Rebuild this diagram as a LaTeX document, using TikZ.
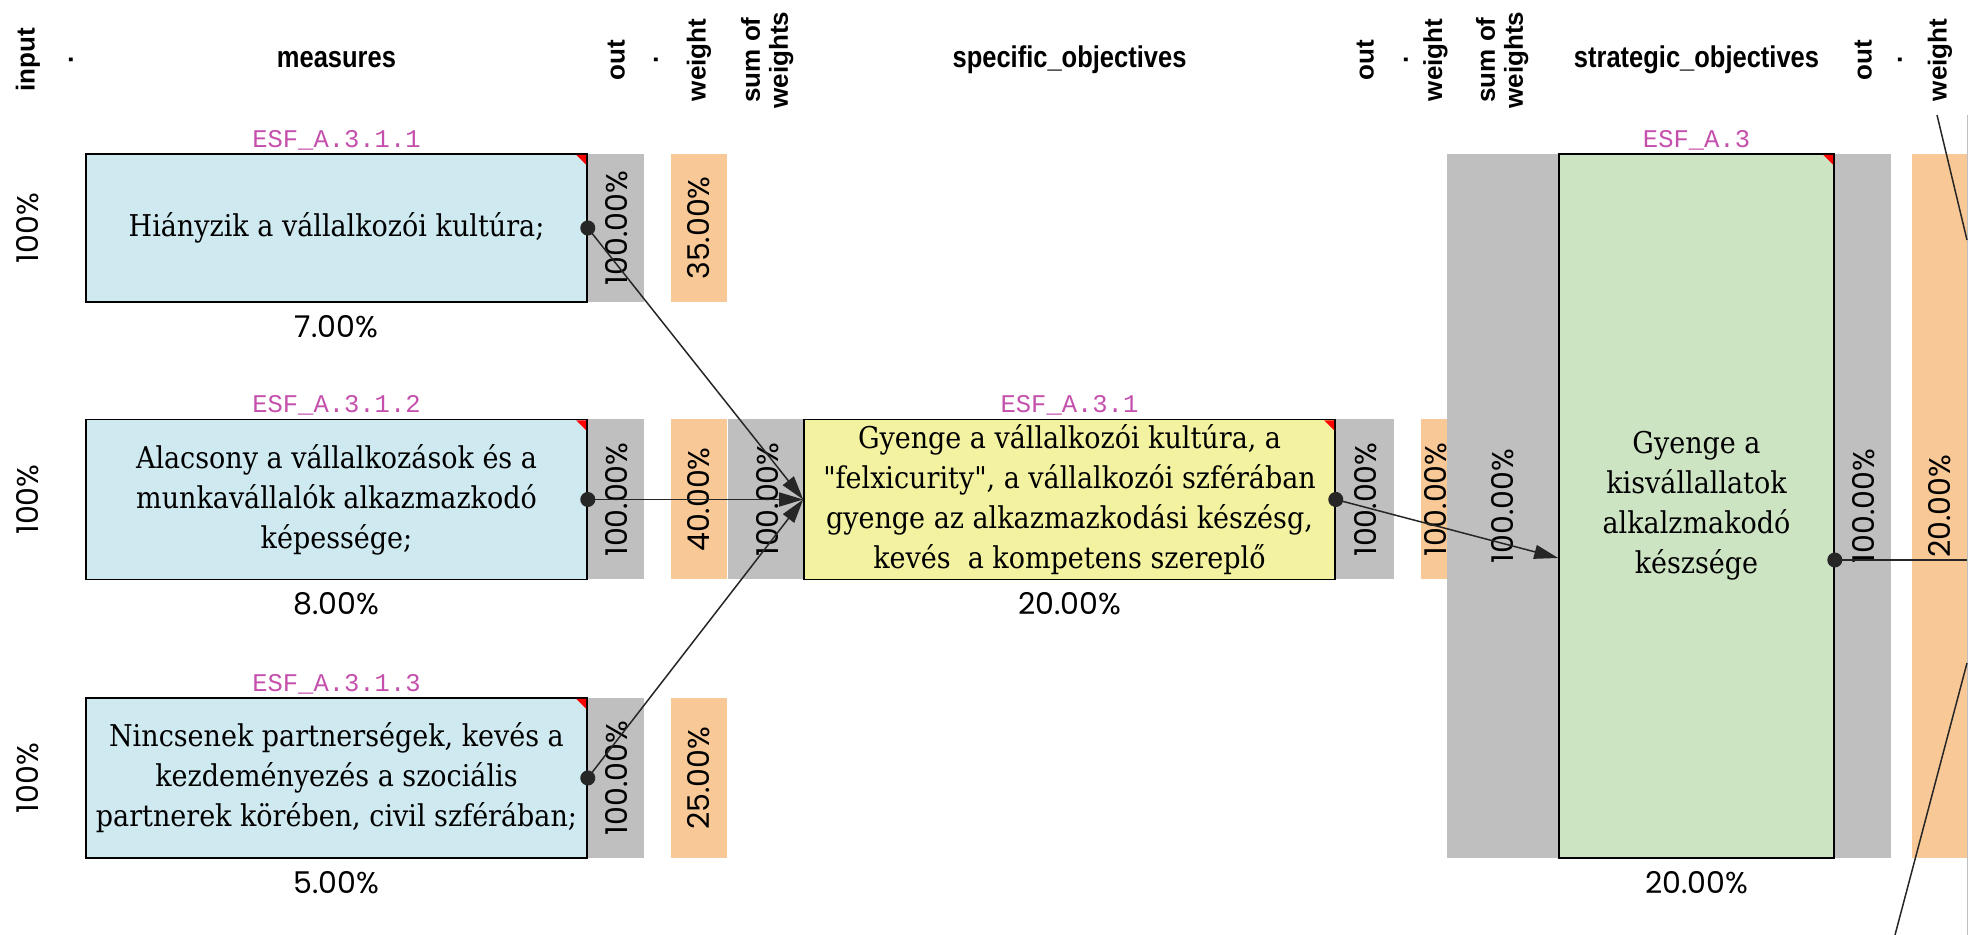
\documentclass[tikz,border=0pt]{standalone}
\usepackage{fontspec}
\setmainfont{DejaVu Serif Condensed}
\newfontfamily\numfont{Poppins}
\newfontfamily\idfont{Liberation Mono}
\newfontfamily\headfont{Liberation Sans}
\newfontfamily\headnarrow[FakeStretch=0.85]{Liberation Sans}
\usetikzlibrary{arrows.meta,positioning}

\definecolor{mblue}{RGB}{206,233,240}
\definecolor{syellow}{RGB}{243,242,160}
\definecolor{sgreen}{RGB}{205,228,195}
\definecolor{stripgray}{RGB}{191,191,191}
\definecolor{wgtorange}{RGB}{248,201,150}
\definecolor{idpink}{RGB}{196,80,172}

\tikzset{
  box/.style={
    draw,
    line width=0.8pt,
    rectangle,
    align=center,
    inner sep=0pt,
    minimum width=250.5pt,
    minimum height=80pt,
    font=\fontsize{15}{20}\selectfont,
  },
  measure/.style={box, fill=mblue},
  specific/.style={box, fill=syellow, minimum width=265.5pt},
  strategic/.style={box, fill=sgreen, minimum width=137.5pt, minimum height=352pt},
  strip/.style={rectangle, inner sep=0pt, minimum width=28pt, minimum height=80pt},
  outs/.style={strip, fill=stripgray},
  wgt/.style={strip, fill=wgtorange},
  pct/.style={font=\numfont\fontsize{15}{15}\selectfont, inner sep=0pt},
  vpct/.style={pct, rotate=90},
  ident/.style={font=\idfont\fontsize{12.75}{13}\selectfont, text=idpink, inner sep=0pt},
  head/.style={font=\headnarrow\bfseries\fontsize{15}{15}\selectfont, inner sep=0pt},
  vhead/.style={font=\headfont\bfseries\fontsize{13}{14}\selectfont, inner sep=0pt, rotate=90, align=center},
  flow/.style={
    {Circle[length=7.5pt]}-{Triangle[length=12pt, width=7pt]},
    line width=0.75pt,
    draw=black!85,
    shorten <=-3.75pt,
  },
  tail/.style={{Circle[length=7.5pt]}-, line width=0.75pt, draw=black!85, shorten <=-3.75pt},
  offpage/.style={line width=0.75pt, draw=black!85},
}

\begin{document}
\begin{tikzpicture}[x=0.5pt, y=-0.5pt]
  \useasboundingbox (0,0) rectangle (1978,935);

  % measures
  \node[measure, minimum height=74pt] (m1) at (336.5,228) {Hiányzik a vállalkozói kultúra;};
  \node[measure] (m2) at (336.5,499.5) {Alacsony a vállalkozások és a\\munkavállalók alkazmazkodó\\képessége;};
  \node[measure] (m3) at (336.5,778) {Nincsenek partnerségek, kevés a\\kezdeményezés a szociális\\partnerek körében, civil szférában;};

  \node[outs, minimum height=74pt, right=0pt of m1] (m1out) {};
  \node[wgt, minimum height=74pt, right=13pt of m1out] (m1w) {};
  \node[outs, right=0pt of m2] (m2out) {};
  \node[wgt, right=13pt of m2out] (m2w) {};
  \node[outs, minimum width=39.5pt, right=0pt of m2w] (m2sum) {};
  \node[outs, right=0pt of m3] (m3out) {};
  \node[wgt, right=13pt of m3out] (m3w) {};

  % specific and strategic objectives
  \node[specific] (s1) at (1069.5,499.5) {Gyenge a vállalkozói kultúra, a\\\textquotedbl felxicurity\textquotedbl, a vállalkozói szférában\\gyenge az alkazmazkodási készésg,\\kevés\ \ a kompetens szereplő};
  \node[outs, minimum width=29pt, right=0pt of s1] (s1out) {};
  \node[wgt, minimum width=14.5pt, right=13pt of s1out] (s1w) {};

  \node[strategic] (s2) at (1696.5,506) {Gyenge a\\kisvállallatok\\alkalzmakodó\\készsége};
  \node[outs, minimum width=55.5pt, minimum height=352pt, left=0pt of s2] (s2sum) {};
  \node[outs, minimum height=352pt, right=0pt of s2] (s2out) {};
  \node[wgt, minimum height=352pt, right=10pt of s2out] (s2w) {};

  % values in the strips
  \node[vpct] (m1outv) at (m1out) {100.00\%};
  \node[vpct] (m1wv) at (m1w) {35.00\%};
  \node[vpct] (m2outv) at (m2out) {100.00\%};
  \node[vpct] (m2wv) at (m2w) {40.00\%};
  \node[vpct] (m2sumv) at (m2sum) {100.00\%};
  \node[vpct] (m3outv) at (m3out) {100.00\%};
  \node[vpct] (m3wv) at (m3w) {25.00\%};
  \node[vpct] (s1outv) at (s1out) {100.00\%};
  \node[vpct] (s1wv) at (s1w) {100.00\%};
  \node[vpct] (s2sumv) at (s2sum) {100.00\%};
  \node[vpct] (s2outv) at (s2out) {100.00\%};
  \node[vpct] (s2wv) at (s2w) {20.00\%};

  \node[vpct] (m1in) at ([xshift=-29pt]m1.west) {100\%};
  \node[vpct] (m2in) at ([xshift=-29pt]m2.west) {100\%};
  \node[vpct] (m3in) at ([xshift=-29pt]m3.west) {100\%};

  % ids and totals
  \node[ident, above=1.5pt of m1] (m1id) {ESF\_A.3.1.1};
  \node[ident, above=1.5pt of m2] (m2id) {ESF\_A.3.1.2};
  \node[ident, above=1.5pt of m3] (m3id) {ESF\_A.3.1.3};
  \node[ident, above=1.5pt of s1] (s1id) {ESF\_A.3.1};
  \node[ident, above=1.5pt of s2] (s2id) {ESF\_A.3};
  \node[pct, below=6pt of m1] (m1pc) {7.00\%};
  \node[pct, below=6pt of m2] (m2pc) {8.00\%};
  \node[pct, below=6pt of m3] (m3pc) {5.00\%};
  \node[pct, below=6pt of s1] (s1pc) {20.00\%};
  \node[pct, below=6pt of s2] (s2pc) {20.00\%};

  % column headers
  \coordinate (hrow) at (0,60);
  \node[vhead] (hin) at (28,60) {input};
  \node[vhead] (hdot1) at (71,60) {.};
  \node[head] (hmeas) at (m1 |- hrow) {measures};
  \node[vhead] (hout1) at (m1out |- hrow) {out};
  \node[vhead] (hdot2) at (656,60) {.};
  \node[vhead] (hw1) at (m1w |- hrow) {weight};
  \node[vhead] (hsum1) at (m2sum |- hrow) {sum of\\weights};
  \node[head] (hspec) at (s1 |- hrow) {specific\_objectives};
  \node[vhead] (hout2) at (s1out |- hrow) {out};
  \node[vhead] (hdot3) at (1406,60) {.};
  \node[vhead] (hw2) at (s1w |- hrow) {weight};
  \node[vhead] (hsum2) at (s2sum |- hrow) {sum of\\weights};
  \node[head] (hstrat) at (s2 |- hrow) {strategic\_objectives};
  \node[vhead] (hout3) at (s2out |- hrow) {out};
  \node[vhead] (hdot4) at (1900,60) {.};
  \node[vhead] (hw3) at (s2w |- hrow) {weight};

  % red corners
  \fill[red] ([xshift=-0.8pt, yshift=-0.8pt]m1.north east) -- ++(-5pt,0pt) -- ++(5pt,-5pt) -- cycle;
  \fill[red] ([xshift=-0.8pt, yshift=-0.8pt]m2.north east) -- ++(-5pt,0pt) -- ++(5pt,-5pt) -- cycle;
  \fill[red] ([xshift=-0.8pt, yshift=-0.8pt]m3.north east) -- ++(-5pt,0pt) -- ++(5pt,-5pt) -- cycle;
  \fill[red] ([xshift=-0.8pt, yshift=-0.8pt]s1.north east) -- ++(-5pt,0pt) -- ++(5pt,-5pt) -- cycle;
  \fill[red] ([xshift=-0.8pt, yshift=-0.8pt]s2.north east) -- ++(-5pt,0pt) -- ++(5pt,-5pt) -- cycle;

  % links
  \draw[flow] (m1.east) -- (s1.west);
  \draw[flow] (m2.east) -- (s1.west);
  \draw[flow] (m3.east) -- (s1.west);
  \coordinate (s2in) at ([yshift=-26pt]s2.west);
  \draw[flow] (s1.east) -- (s2in);
  \coordinate (s2port) at ([yshift=-27pt]s2.east);
  \coordinate (s2exit) at (1967,560);
  \draw[tail] (s2port) -- (s2exit);

  % right border and links leaving the page
  \coordinate (edgetop) at (1967,115);
  \coordinate (edgebot) at (1967,935);
  \draw[stripgray, line width=0.5pt] (edgetop) -- (edgebot);
  \coordinate (offa) at (1937,115);
  \coordinate (offb) at (1967,240);
  \draw[offpage] (offa) -- (offb);
  \coordinate (offc) at (1895,935);
  \coordinate (offd) at (1967,663);
  \draw[offpage] (offc) -- (offd);
\end{tikzpicture}
\end{document}
